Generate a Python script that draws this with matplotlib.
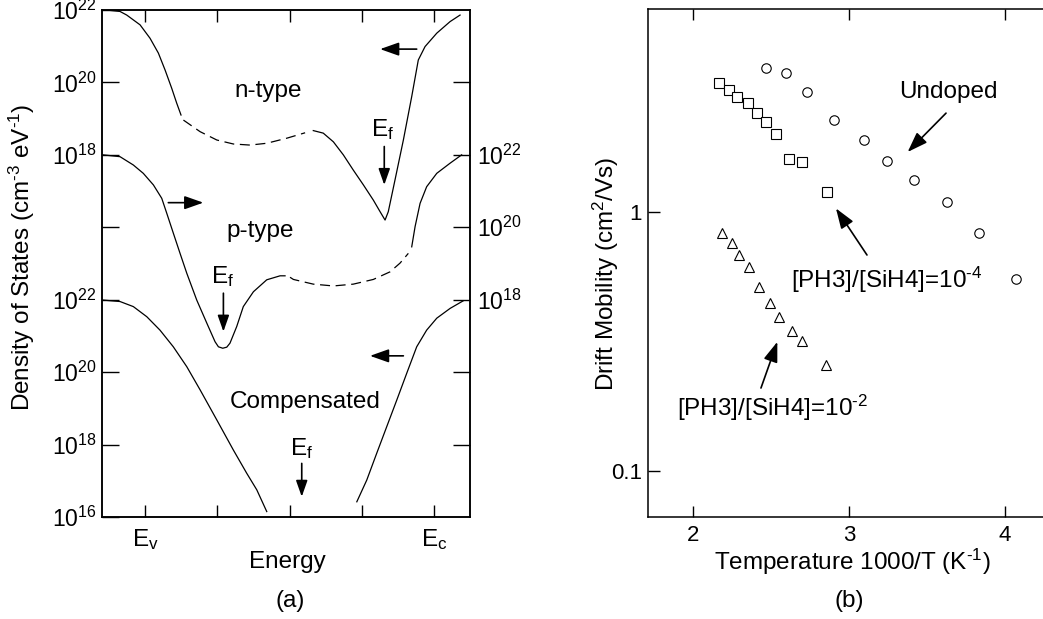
import matplotlib
matplotlib.use('Agg')
import matplotlib.pyplot as plt
import numpy as np

plt.rcParams['font.family'] = ['Liberation Sans', 'DejaVu Sans']
plt.rcParams['mathtext.fontset'] = 'custom'
plt.rcParams['mathtext.rm'] = 'Liberation Sans'
plt.rcParams['mathtext.it'] = 'Liberation Sans:italic'
plt.rcParams['mathtext.bf'] = 'Liberation Sans:bold'

# ---- (a) density of states: energy (eV above Ev), log10 DOS (cm^-3 eV^-1)
# n-type (drawn 8 decades up)
n_val_E = [-0.22, -0.156, -0.114, -0.031, 0.031, 0.083, 0.125, 0.166, 0.197, 0.224]
n_val_D = [21.99, 21.96, 21.86, 21.59, 21.22, 20.81, 20.34, 19.84, 19.43, 19.10]
n_gap_E = [0.239, 0.343, 0.447, 0.550, 0.654, 0.758, 0.883, 0.997]
n_gap_D = [18.96, 18.64, 18.41, 18.30, 18.27, 18.32, 18.46, 18.61]
n_con_E = [1.048, 1.110, 1.173, 1.235, 1.297, 1.360, 1.422, 1.464, 1.495, 1.515,
           1.557, 1.609, 1.661, 1.702, 1.744, 1.817, 1.900, 1.962]
n_con_D = [18.67, 18.60, 18.36, 18.00, 17.58, 17.17, 16.75, 16.43, 16.20, 16.43,
           17.31, 18.41, 19.61, 20.62, 20.99, 21.36, 21.68, 21.86]

# p-type (drawn 4 decades up)
p_val_E = [-0.262, -0.156, -0.073, -0.011, 0.052, 0.104, 0.135, 0.176, 0.218, 0.260,
           0.322, 0.385, 0.436, 0.457, 0.484, 0.509, 0.529, 0.571, 0.612, 0.675,
           0.758, 0.841, 0.872]
p_val_D = [22.00, 21.95, 21.72, 21.49, 21.17, 20.80, 20.39, 19.84, 19.28, 18.73,
           17.99, 17.35, 16.84, 16.70, 16.66, 16.69, 16.80, 17.26, 17.81, 18.22,
           18.55, 18.66, 18.66]
p_gap_E = [0.903, 0.924, 1.048, 1.173, 1.297, 1.422, 1.526, 1.588, 1.640]
p_gap_D = [18.62, 18.56, 18.43, 18.38, 18.43, 18.56, 18.77, 19.01, 19.28]
p_con_E = [1.661, 1.682, 1.713, 1.754, 1.817, 1.900, 1.972]
p_con_D = [19.46, 20.02, 20.66, 21.12, 21.49, 21.77, 22.00]

# compensated
c_val_E = [-0.262, -0.156, -0.073, 0.011, 0.093, 0.176, 0.260, 0.343, 0.447,
           0.550, 0.633, 0.696, 0.758]
c_val_D = [21.99, 21.95, 21.81, 21.53, 21.16, 20.70, 20.15, 19.51, 18.68,
           17.85, 17.21, 16.75, 16.15]
c_con_E = [1.319, 1.381, 1.443, 1.505, 1.568, 1.630, 1.692, 1.754, 1.817, 1.900, 1.982]
c_con_D = [16.42, 17.02, 17.76, 18.49, 19.23, 19.97, 20.70, 21.16, 21.49, 21.76, 21.97]

shift_n = 8
shift_p = 4

energy_ticks = [0, 0.45, 0.9, 1.35, 1.8]
energy_labels = [r'$\mathregular{E_v}$', '', '', '', r'$\mathregular{E_c}$']
left_ticks = [16, 18, 20, 22, 24, 26, 28, 30]
left_labels = ['16', '18', '20', '22', '', '18', '20', '22']
right_ticks = [18, 20, 22, 24, 26, 28]
right_labels = ['', '', '18', '20', '22', '']

# ---- (b) drift mobility vs 1000/T
undoped_x = [2.464, 2.595, 2.727, 2.902, 3.097, 3.244, 3.418, 3.625, 3.834, 4.068]
undoped_mu = [3.57, 3.44, 2.90, 2.26, 1.89, 1.57, 1.33, 1.09, 0.825, 0.548]
ph4_x = [2.167, 2.227, 2.278, 2.349, 2.406, 2.464, 2.532, 2.613, 2.697, 2.855]
ph4_mu = [3.14, 2.95, 2.76, 2.62, 2.40, 2.22, 1.99, 1.60, 1.55, 1.19]
ph2_x = [2.186, 2.250, 2.295, 2.359, 2.423, 2.494, 2.551, 2.631, 2.699, 2.849]
ph2_mu = [0.825, 0.755, 0.681, 0.614, 0.514, 0.443, 0.392, 0.348, 0.318, 0.256]

W, H = 1043, 619
fig = plt.figure(figsize=(W / 100, H / 100), dpi=100)

def frac(x0, y0, x1, y1):
    return [x0 / W, 1 - y1 / H, (x1 - x0) / W, (y1 - y0) / H]

FS = 17.5
TFS = 16.5
LW = 0.9

def arrow(ax, tail, head, ms=14):
    ax.annotate('', xy=head, xytext=tail,
                arrowprops=dict(arrowstyle='-|>,head_length=0.82,head_width=0.29',
                                color='black', lw=1.2, shrinkA=0, shrinkB=0,
                                mutation_scale=ms))

def sup(s):
    # short hyphen instead of the long mathtext minus
    return r'$^{\text{-}%s}$' % s[1:] if s.startswith('-') else r'$^{%s}$' % s

# ================= panel (a)
ax = fig.add_axes(frac(101.7, 10, 470, 517))
ax.set_yscale('log')
ax.set_xlim(-0.27, 2.024)
ax.set_ylim(1e16, 1e30)

def dos(E, D, shift, **kw):
    ax.plot(E, 10 ** (np.array(D) + shift), color='black', lw=LW, **kw)

dash = (0, (8, 4.5))
dos(n_val_E, n_val_D, shift_n)
dos(n_gap_E, n_gap_D, shift_n, linestyle=dash)
dos(n_con_E, n_con_D, shift_n)
dos(p_val_E, p_val_D, shift_p)
dos(p_gap_E, p_gap_D, shift_p, linestyle=dash)
dos(p_con_E, p_con_D, shift_p)
dos(c_val_E, c_val_D, 0)
dos(c_con_E, c_con_D, 0)

ax.set_xticks(energy_ticks)
ax.set_xticklabels(energy_labels, fontsize=FS)
ax.set_yticks([10.0 ** t for t in left_ticks])
ax.set_yticklabels(['10' + sup(s) if s else '' for s in left_labels], fontsize=TFS)
ax.yaxis.set_minor_locator(matplotlib.ticker.NullLocator())
ax.tick_params(axis='x', direction='in', length=8.6, width=1.0, top=True, pad=7)
ax.tick_params(axis='y', direction='in', length=12, width=1.0, right=False, pad=3.5)
for s in ax.spines.values():
    s.set_linewidth(1.1)

ax2 = ax.twinx()
ax2.set_yscale('log')
ax2.set_ylim(1e16, 1e30)
ax2.set_yticks([10.0 ** t for t in right_ticks])
ax2.set_yticklabels(['10' + sup(s) if s else '' for s in right_labels], fontsize=TFS)
ax2.yaxis.set_minor_locator(matplotlib.ticker.NullLocator())
ax2.tick_params(axis='y', direction='in', length=12, width=1.0, pad=4.8)
for s in ax2.spines.values():
    s.set_linewidth(1.1)

ax.text(0.766, 10 ** 27.59, 'n-type', fontsize=FS, ha='center', va='baseline')
ax.text(0.716, 10 ** 23.74, 'p-type', fontsize=FS, ha='center', va='baseline')
ax.text(0.997, 10 ** 19.00, 'Compensated', fontsize=FS, ha='center', va='baseline')
ax.text(1.482, 10 ** 26.51, r'$\mathregular{E_f}$', fontsize=FS, ha='center', va='baseline')
ax.text(0.486, 10 ** 22.46, r'$\mathregular{E_f}$', fontsize=FS, ha='center', va='baseline')
ax.text(0.978, 10 ** 17.71, r'$\mathregular{E_f}$', fontsize=FS, ha='center', va='baseline')

arrow(ax, (1.692, 10 ** 28.92), (1.464, 10 ** 28.92))
arrow(ax, (0.145, 10 ** 24.68), (0.363, 10 ** 24.68))
arrow(ax, (1.609, 10 ** 20.45), (1.401, 10 ** 20.45))
arrow(ax, (1.490, 10 ** 26.23), (1.490, 10 ** 25.17), ms=12)
arrow(ax, (0.488, 10 ** 22.18), (0.488, 10 ** 21.12), ms=12)
arrow(ax, (0.976, 10 ** 17.48), (0.976, 10 ** 16.56), ms=12)

fig.text(287.7 / W, 1 - 561.7 / H, 'Energy', fontsize=FS, ha='center', va='center')
fig.text(290 / W, 1 - 601 / H, '(a)', fontsize=FS, ha='center', va='center')
fig.text(22 / W, 1 - 257 / H, 'Density of States (cm' + sup('-3') + ' eV' + sup('-1') + ')',
         fontsize=FS, rotation=90, ha='center', va='center')

# ================= panel (b)
bx = fig.add_axes(frac(647.7, 9, 1043, 517))
bx.set_yscale('log')
bx.set_xlim(1.7075, 4.243)
bx.set_ylim(0.0665, 6.05)
mk = dict(linestyle='none', markerfacecolor='white', markeredgecolor='black',
          markeredgewidth=0.8)
bx.plot(undoped_x, undoped_mu, marker='o', markersize=6.8, **mk)
bx.plot(ph4_x, ph4_mu, marker='s', markersize=7.0, **mk)
bx.plot(ph2_x, ph2_mu, marker='^', markersize=7.0, **mk)

bx.set_xticks([2, 3, 4])
bx.set_xticklabels(['2', '3', '4'], fontsize=16)
bx.set_yticks([0.1, 1])
bx.set_yticklabels(['0.1', '1'], fontsize=16)
bx.yaxis.set_minor_locator(matplotlib.ticker.NullLocator())
bx.tick_params(axis='x', direction='in', length=8, width=1.0, top=True, pad=5.5)
bx.tick_params(axis='y', direction='in', length=8.6, width=1.0, pad=4.3)
bx.spines['right'].set_visible(False)
for s in bx.spines.values():
    s.set_linewidth(1.1)

bx.text(3.634, 2.74, 'Undoped', fontsize=FS, ha='center', va='baseline')
bx.text(3.241, 0.507, '[PH3]/[SiH4]=10' + sup('-4'), fontsize=FS, ha='center', va='baseline')
bx.text(2.511, 0.163, '[PH3]/[SiH4]=10' + sup('-2'), fontsize=FS, ha='center', va='baseline')
arrow(bx, (3.621, 2.40), (3.375, 1.70), ms=15)
arrow(bx, (3.114, 0.681), (2.915, 1.03), ms=15)
arrow(bx, (2.434, 0.209), (2.539, 0.315), ms=15)

fig.text(852 / W, 1 - 562 / H, 'Temperature 1000/T (K' + sup('-1') + ')', fontsize=FS,
         ha='center', va='center')
fig.text(849 / W, 1 - 601 / H, '(b)', fontsize=FS, ha='center', va='center')
fig.text(606 / W, 1 - 274 / H, 'Drift Mobility (cm' + sup('2') + '/Vs)', fontsize=FS,
         rotation=90, ha='center', va='center')

fig.savefig('out.png', dpi=100)
